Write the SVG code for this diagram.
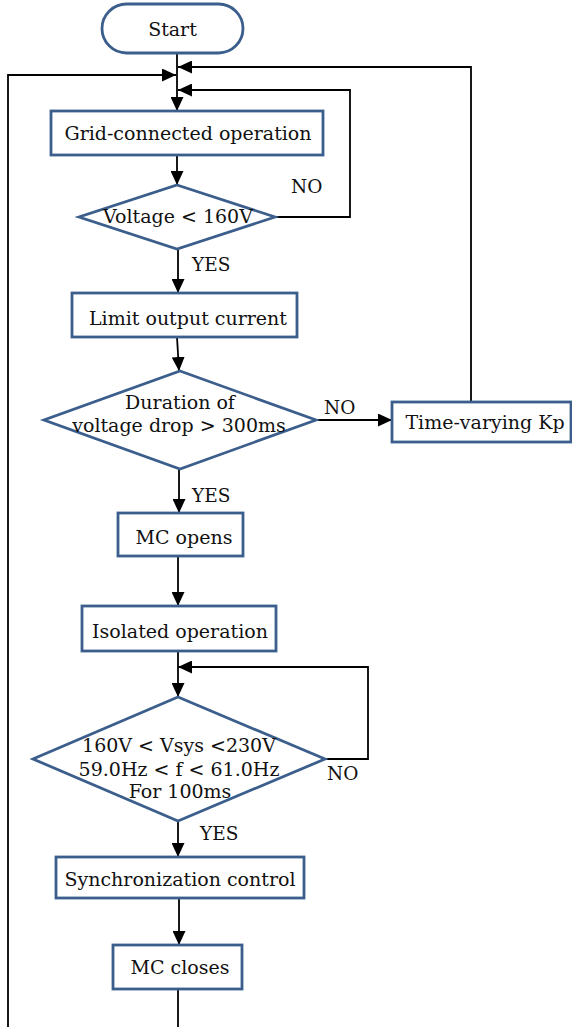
<svg xmlns="http://www.w3.org/2000/svg" width="572" height="1027" viewBox="0 0 572 1027">
<style>
.n{fill:#fff;stroke:#3b5e8c;stroke-width:2.8}
.t{font-family:"DejaVu Serif","Liberation Serif",serif;font-size:19px;fill:#111;text-anchor:middle}
.l{font-family:"DejaVu Serif","Liberation Serif",serif;font-size:18.5px;fill:#111}
.c{fill:none;stroke:#000;stroke-width:1.8}
</style>
<defs>
<marker id="ah" viewBox="0 0 14 13" refX="14" refY="6.5" markerWidth="14" markerHeight="13" orient="auto" markerUnits="userSpaceOnUse">
<path d="M0,0 L14,6.5 L0,13 z" fill="#000"/>
</marker>
</defs>
<g id="connectors">
<path class="c" d="M177,53 V111" marker-end="url(#ah)"/>
<path class="c" d="M8,1027 V75 H176" marker-end="url(#ah)"/>
<path class="c" d="M471,402 V67 H178" marker-end="url(#ah)"/>
<path class="c" d="M275,217 H350 V90 H178" marker-end="url(#ah)"/>
<path class="c" d="M177,155 V185" marker-end="url(#ah)"/>
<path class="c" d="M178,249 V293" marker-end="url(#ah)"/>
<path class="c" d="M177,337 L179,371" marker-end="url(#ah)"/>
<path class="c" d="M316,420 H392" marker-end="url(#ah)"/>
<path class="c" d="M179,469 V513" marker-end="url(#ah)"/>
<path class="c" d="M178,556 V606" marker-end="url(#ah)"/>
<path class="c" d="M178,651 V697" marker-end="url(#ah)"/>
<path class="c" d="M325,759 H368 V667 H178" marker-end="url(#ah)"/>
<path class="c" d="M178,821 V857" marker-end="url(#ah)"/>
<path class="c" d="M179,898 V945" marker-end="url(#ah)"/>
<path class="c" d="M178,989 V1027"/>
</g>
<g id="labels">
<text class="l" x="291" y="193">NO</text>
<text class="l" x="192" y="271">YES</text>
<text class="l" x="324" y="414">NO</text>
<text class="l" x="192" y="502">YES</text>
<text class="l" x="327" y="780">NO</text>
<text class="l" x="200" y="840">YES</text>
</g>
<g id="start"><rect class="n" x="102" y="4" width="141" height="49" rx="24.5"/><text class="t" x="172.5" y="36">Start</text></g>
<g id="grid"><rect class="n" x="51" y="111" width="272" height="44"/><text class="t" x="188" y="140">Grid-connected operation</text></g>
<g id="dec1"><polygon class="n" points="177,185 275,217 177,249 79,217"/><text class="t" x="178" y="223">Voltage &lt; 160V</text></g>
<g id="limit"><rect class="n" x="72" y="293" width="225" height="44"/><text class="t" x="188" y="325">Limit output current</text></g>
<g id="dec2"><polygon class="n" points="180,371 316,420 180,469 44,420"/><text class="t" x="180" y="409">Duration of</text><text class="t" x="179" y="432">voltage drop &gt; 300ms</text></g>
<g id="kp"><rect class="n" x="392" y="402" width="179" height="40"/><text class="t" x="485" y="429">Time-varying Kp</text></g>
<g id="mcopen"><rect class="n" x="118" y="513" width="125" height="43"/><text class="t" x="184" y="544">MC opens</text></g>
<g id="isolated"><rect class="n" x="82" y="606" width="194" height="45"/><text class="t" x="180" y="638">Isolated operation</text></g>
<g id="dec3"><polygon class="n" points="178,697 325,759 178,821 33,759"/><text class="t" x="179" y="752">160V &lt; Vsys &lt;230V</text><text class="t" x="179" y="776">59.0Hz &lt; f &lt; 61.0Hz</text><text class="t" x="180" y="798">For 100ms</text></g>
<g id="sync"><rect class="n" x="56" y="857" width="248" height="41"/><text class="t" x="180" y="886">Synchronization control</text></g>
<g id="mcclose"><rect class="n" x="113" y="945" width="129" height="44"/><text class="t" x="180" y="974">MC closes</text></g>
</svg>
